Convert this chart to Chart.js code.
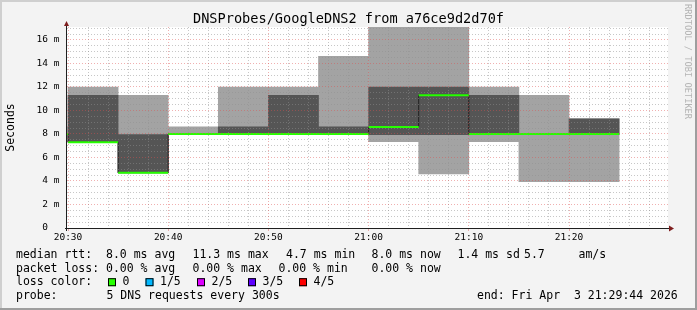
<!DOCTYPE html>
<html>
<head>
<meta charset="utf-8">
<script src="https://cdn.jsdelivr.net/npm/chart.js@4.4.1/dist/chart.umd.min.js"></script>
<style>
  html, body { margin: 0; padding: 0; background: #f3f3f3; }
</style>
</head>
<body>
<canvas id="mycanvas" width="697" height="310"></canvas>
<script>
// 5 minute slots, in minutes after 20:30 (first slot only shows as a sliver)
var slotStart = [-5, 0, 5, 10, 15, 20, 25, 30, 35, 40, 45, 50];
var slotLen = 5;

// sorted pings of each slot, ms (5 pings, ping3 = median)
var ping1  = [8.0, 7.3, 4.7, 8.0, 8.0, 8.0, 8.0, 7.35, 4.6, 7.35, 3.95, 3.95];
var ping2  = [8.0, 7.3, 4.7, 8.0, 8.0, 8.0, 8.0, 7.95, 7.95, 7.95, 8.0, 7.95];
var median = [8.0, 7.3, 4.7, 8.0, 8.0, 8.0, 8.0, 8.6, 11.3, 8.0, 8.0, 8.0];
var ping4  = [8.0, 11.3, 7.95, 8.0, 8.6, 11.3, 8.6, 12.0, 12.0, 11.3, 8.0, 9.3];
var ping5  = [8.6, 12.0, 11.3, 8.6, 12.0, 12.0, 14.6, 19.5, 19.5, 12.0, 11.3, 9.3];

var timeTicks  = [0, 10, 20, 30, 40, 50];
var timeLabels = ['20:30', '20:40', '20:50', '21:00', '21:10', '21:20'];
var msTicks    = [0, 2, 4, 6, 8, 10, 12, 14, 16];

var titleText = 'DNSProbes/GoogleDNS2 from a76ce9d2d70f';
var rttStats  = ['8.0 ms avg', '11.3 ms max', '4.7 ms min', '8.0 ms now', '1.4 ms sd', '5.7', 'am/s'];
var lossStats = ['0.00 % avg', '0.00 % max', '0.00 % min', '0.00 % now'];
var lossNames  = ['0', '1/5', '2/5', '3/5', '4/5'];
var lossColors = ['#26ff00', '#00b8ff', '#dd00ff', '#5e00ff', '#ff0000'];
var probeText = '5 DNS requests every 300s';
var endText   = 'end: Fri Apr  3 21:29:44 2026';

var MONO = '"DejaVu Sans Mono", "Liberation Mono", monospace';

// build the chart data from the arrays
var lightSmoke = [], darkSmoke = [], medianStep = [], medianLoss = [];
for (var i = 0; i < slotStart.length; i++) {
  var mid = slotStart[i] + slotLen / 2;
  lightSmoke.push({x: mid, y: [ping1[i], ping5[i]]});
  darkSmoke.push({x: mid, y: [ping2[i], ping4[i]]});
  medianStep.push({x: slotStart[i], y: median[i]});
  medianLoss.push({x: slotStart[i], y: median[i]});
  medianLoss.push({x: slotStart[i] + slotLen, y: median[i]});
  medianLoss.push({x: slotStart[i] + slotLen, y: null});
}
var last = slotStart.length - 1;
medianStep.push({x: slotStart[last] + slotLen, y: median[last]});

var minorX = [], minorY = [];
for (var m = 0; m < 60; m += 2) { if (m % 10) minorX.push({value: m}); }
for (var v = 0.5; v <= 17; v += 0.5) { if (v % 2) minorY.push({value: v}); }

var GRID = 'rgba(143,143,143,0.5)';
var MGRID = 'rgba(222,80,80,0.45)';

var rrdLook = {
  id: 'rrdLook',
  beforeDraw: function(chart) {
    var c = chart.ctx, a = chart.chartArea, w = chart.width, h = chart.height;
    c.save();
    c.fillStyle = '#f3f3f3';
    c.fillRect(0, 0, w, h);
    c.fillStyle = '#cfcfcf';
    c.fillRect(0, 0, w, 2);
    c.fillRect(0, 0, 2, h);
    c.fillStyle = '#9e9e9e';
    c.fillRect(0, h - 2, w, 2);
    c.fillRect(w - 2, 0, 2, h);
    c.fillStyle = '#ffffff';
    c.fillRect(a.left, a.top, a.right - a.left, a.bottom - a.top);
    c.restore();
  },
  afterDraw: function(chart) {
    var c = chart.ctx, a = chart.chartArea;
    c.save();
    // axes
    c.strokeStyle = '#1f1f1f';
    c.lineWidth = 1;
    c.beginPath();
    c.moveTo(a.left - 0.5, a.bottom + 3);
    c.lineTo(a.left - 0.5, a.top - 1);
    c.moveTo(a.left - 2, a.bottom + 0.5);
    c.lineTo(a.right + 1, a.bottom + 0.5);
    c.stroke();
    c.fillStyle = '#7f1f1f';
    c.beginPath();
    c.moveTo(a.left - 3, a.top - 1);
    c.lineTo(a.left + 2, a.top - 1);
    c.lineTo(a.left - 0.5, a.top - 6);
    c.closePath();
    c.fill();
    c.beginPath();
    c.moveTo(a.right + 1, a.bottom - 2.5);
    c.lineTo(a.right + 1, a.bottom + 3.5);
    c.lineTo(a.right + 6, a.bottom + 0.5);
    c.closePath();
    c.fill();

    // title
    c.fillStyle = '#000';
    c.font = '13.6px ' + MONO;
    c.textAlign = 'center';
    c.textBaseline = 'alphabetic';
    c.fillText(titleText, chart.width / 2, 23);

    // vertical label
    c.save();
    c.translate(11, (a.top + a.bottom) / 2);
    c.rotate(-Math.PI / 2);
    c.font = '11.5px ' + MONO;
    c.textBaseline = 'middle';
    c.fillText('Seconds', 0, 0);
    c.restore();

    // watermark
    c.save();
    c.translate(687.5, 4);
    c.rotate(Math.PI / 2);
    c.font = '8.7px ' + MONO;
    c.fillStyle = '#b4b4b4';
    c.textAlign = 'left';
    c.textBaseline = 'middle';
    c.fillText('RRDTOOL / TOBI OETIKER', 0, 0);
    c.restore();

    // legend block
    c.font = '11.5px ' + MONO;
    c.textAlign = 'left';
    c.textBaseline = 'alphabetic';
    c.fillStyle = '#000';
    var rows = [258, 271.6, 285.2, 298.8];
    var rttX = [106, 192.5, 286, 371.5, 457.5, 524, 578.5];
    var lossX = [106, 192.5, 278.5, 371.5];
    c.fillText('median rtt:', 16, rows[0]);
    rttStats.forEach(function(s, k) { c.fillText(s, rttX[k], rows[0]); });
    c.fillText('packet loss:', 16, rows[1]);
    lossStats.forEach(function(s, k) { c.fillText(s, lossX[k], rows[1]); });
    c.fillText('loss color:', 16, rows[2]);
    var boxX = [108, 145.5, 197, 248, 299];
    lossNames.forEach(function(s, k) {
      c.fillStyle = lossColors[k];
      c.fillRect(boxX[k], rows[2] - 7, 8, 8);
      c.strokeStyle = '#000';
      c.strokeRect(boxX[k] + 0.5, rows[2] - 6.5, 7, 7);
      c.fillStyle = '#000';
      c.fillText(s, boxX[k] + 14.5, rows[2]);
    });
    c.fillText('probe:', 16, rows[3]);
    c.fillText(probeText, 106.5, rows[3]);
    c.fillText(endText, 477, rows[3]);
    c.restore();
  }
};

var ctx = document.getElementById('mycanvas');

var smokeChart = new Chart(ctx, {
  type: 'bar',
  data: {
    datasets: [
      {
        type: 'line', label: 'median 0 loss', data: medianLoss, order: 0,
        borderColor: '#26ff00', borderWidth: 2, pointRadius: 0, spanGaps: false
      },
      {
        type: 'line', label: 'median', data: medianStep, order: 1, stepped: 'before',
        borderColor: '#202020', borderWidth: 1, pointRadius: 0
      },
      {
        type: 'bar', label: 'inner smoke', data: darkSmoke, order: 2, grouped: false,
        backgroundColor: '#555555', borderWidth: 0, barPercentage: 1, categoryPercentage: 1
      },
      {
        type: 'bar', label: 'outer smoke', data: lightSmoke, order: 3, grouped: false,
        backgroundColor: '#a3a3a3', borderWidth: 0, barPercentage: 1, categoryPercentage: 1
      }
    ]
  },
  options: {
    responsive: false,
    animation: false,
    devicePixelRatio: 1,
    layout: { padding: { left: 0, top: 27, right: 29, bottom: 0 } },
    plugins: { legend: { display: false }, tooltip: { enabled: false }, title: { display: false } },
    scales: {
      x: {
        type: 'linear', position: 'bottom', min: -0.1, max: 59.88, offset: false,
        afterBuildTicks: function(s) { s.ticks = timeTicks.map(function(t) { return {value: t}; }); },
        afterFit: function(s) { s.height = 82; },
        grid: { z: 2, offset: false, color: MGRID, drawTicks: true, tickLength: 3, tickColor: MGRID },
        border: { display: false, dash: [1, 2] },
        ticks: {
          autoSkip: false, maxRotation: 0, padding: 1, color: '#000',
          font: { family: MONO, size: 9.5 },
          callback: function(val, idx) { return timeLabels[idx]; }
        }
      },
      xMinor: {
        type: 'linear', position: 'bottom', min: -0.1, max: 59.88, offset: false,
        afterBuildTicks: function(s) { s.ticks = minorX.slice(); },
        afterFit: function(s) { s.height = 0; },
        grid: { z: 1, offset: false, color: GRID, drawTicks: false },
        border: { display: false, dash: [1, 2] },
        ticks: { display: false }
      },
      y: {
        type: 'linear', position: 'left', min: 0, max: 17.106,
        afterBuildTicks: function(s) { s.ticks = msTicks.map(function(t) { return {value: t}; }); },
        afterFit: function(s) { s.width = 67; },
        grid: { z: 2, color: MGRID, drawTicks: false },
        border: { display: false, dash: [1, 2] },
        ticks: {
          padding: 7.5, color: '#000',
          font: { family: MONO, size: 9.5 },
          callback: function(val) { return val === 0 ? ' 0  ' : (val < 10 ? ' ' : '') + val + ' m'; }
        }
      },
      yMinor: {
        type: 'linear', position: 'left', min: 0, max: 17.106,
        afterBuildTicks: function(s) { s.ticks = minorY.slice(); },
        afterFit: function(s) { s.width = 0; },
        grid: { z: 1, color: GRID, drawTicks: false },
        border: { display: false, dash: [1, 2] },
        ticks: { display: false }
      }
    }
  },
  plugins: [rrdLook]
});
</script>
</body>
</html>
